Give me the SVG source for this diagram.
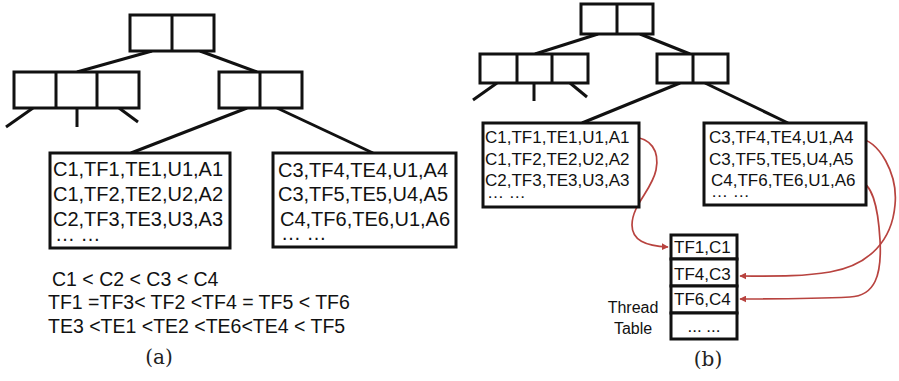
<svg xmlns="http://www.w3.org/2000/svg" width="899" height="381" viewBox="0 0 899 381">
<style>
.n{fill:#fff;stroke:#111;stroke-width:3}
.e{stroke:#111;stroke-width:3;fill:none}
.t{font-family:"Liberation Sans",Arial,sans-serif;fill:#111}
.ta{font-size:20px}
.tb{font-size:17px}
.cap{font-family:"DejaVu Serif","Liberation Serif",serif;font-size:20px;fill:#222}
.r{stroke:#b8433f;stroke-width:1.7;fill:none;marker-end:url(#ah)}
</style>
<defs>
<marker id="ah" viewBox="0 0 10 10" refX="9" refY="5" markerWidth="7" markerHeight="7" markerUnits="userSpaceOnUse" orient="auto">
<path d="M0,0 L10,5 L0,10 z" fill="#b8433f"/>
</marker>
</defs>
<g id="connectors">
<line class="e" x1="152" y1="51" x2="77" y2="72"/>
<line class="e" x1="200" y1="51" x2="257" y2="72"/>
<line class="e" x1="33" y1="108" x2="6" y2="127"/>
<line class="e" x1="77" y1="108" x2="77" y2="127"/>
<line class="e" x1="119" y1="108" x2="138" y2="122"/>
<line class="e" x1="247" y1="108" x2="131" y2="153"/>
<line class="e" x1="277" y1="108" x2="373" y2="153"/>
<line class="e" x1="598" y1="34" x2="535" y2="54"/>
<line class="e" x1="640" y1="34" x2="690" y2="54"/>
<line class="e" x1="497" y1="83" x2="473" y2="100"/>
<line class="e" x1="534" y1="83" x2="534" y2="101"/>
<line class="e" x1="570" y1="83" x2="587" y2="97"/>
<line class="e" x1="680" y1="83" x2="582" y2="123"/>
<line class="e" x1="705" y1="83" x2="788" y2="123"/>
<circle cx="632" cy="137" r="1.3" fill="#222"/>
<circle cx="856" cy="138" r="1.3" fill="#222"/>
<circle cx="857" cy="180" r="1.3" fill="#222"/>
<path class="r" d="M633,137 C650,138 660,150 656,170 C652,190 632,205 632,225 C632,240 645,246 668,247"/>
<path class="r" d="M857,138 C880,140 898,175 895,205 C892,240 870,265 830,272 C800,277 770,276 740,276"/>
<path class="r" d="M858,180 C872,183 878,205 880,240 C882,275 875,296 850,297 C810,299 770,299 740,299"/>
</g>
<g id="a-root"><rect class="n" x="130" y="15" width="84" height="36"/><line class="e" x1="172" y1="15" x2="172" y2="51"/></g>
<g id="a-left"><rect class="n" x="14" y="72" width="125" height="36"/><line class="e" x1="56" y1="72" x2="56" y2="108"/><line class="e" x1="97" y1="72" x2="97" y2="108"/></g>
<g id="a-right"><rect class="n" x="219" y="72" width="83" height="36"/><line class="e" x1="260" y1="72" x2="260" y2="108"/></g>
<g id="a-leaf1"><rect class="n" x="50" y="153" width="180" height="95"/>
<text class="t ta" x="53" y="176">C1,TF1,TE1,U1,A1</text>
<text class="t ta" x="53" y="201">C1,TF2,TE2,U2,A2</text>
<text class="t ta" x="53" y="226">C2,TF3,TE3,U3,A3</text>
<text class="t ta" x="55" y="241">… …</text></g>
<g id="a-leaf2"><rect class="n" x="273" y="153" width="183" height="94"/>
<text class="t ta" x="278" y="177">C3,TF4,TE4,U1,A4</text>
<text class="t ta" x="278" y="201">C3,TF5,TE5,U4,A5</text>
<text class="t ta" x="280" y="226">C4,TF6,TE6,U1,A6</text>
<text class="t ta" x="281" y="240">… …</text></g>
<g id="a-order">
<text class="t" style="font-size:19.5px" x="52" y="286">C1 &lt; C2 &lt; C3 &lt; C4</text>
<text class="t" style="font-size:19.5px" x="48" y="309">TF1 =TF3&lt; TF2 &lt;TF4 = TF5 &lt; TF6</text>
<text class="t" style="font-size:19.5px" x="48" y="333">TE3 &lt;TE1 &lt;TE2 &lt;TE6&lt;TE4 &lt; TF5</text>
</g>
<text class="cap" x="159" y="364" text-anchor="middle">(a)</text>
<g id="b-root"><rect class="n" x="581" y="4" width="72" height="30"/><line class="e" x1="617" y1="4" x2="617" y2="34"/></g>
<g id="b-left"><rect class="n" x="480" y="54" width="108" height="29"/><line class="e" x1="517" y1="54" x2="517" y2="83"/><line class="e" x1="552" y1="54" x2="552" y2="83"/></g>
<g id="b-right"><rect class="n" x="657" y="54" width="71" height="29"/><line class="e" x1="693" y1="54" x2="693" y2="83"/></g>
<g id="b-leaf1"><rect class="n" x="483" y="123" width="156" height="84"/>
<text class="t tb" x="485" y="143">C1,TF1,TE1,U1,A1</text>
<text class="t tb" x="485" y="165">C1,TF2,TE2,U2,A2</text>
<text class="t tb" x="485" y="186">C2,TF3,TE3,U3,A3</text>
<text class="t tb" x="487" y="198">… …</text></g>
<g id="b-leaf2"><rect class="n" x="704" y="123" width="162" height="82"/>
<text class="t tb" x="709" y="143">C3,TF4,TE4,U1,A4</text>
<text class="t tb" x="709" y="165">C3,TF5,TE5,U4,A5</text>
<text class="t tb" x="711" y="186">C4,TF6,TE6,U1,A6</text>
<text class="t tb" x="711" y="197">… …</text></g>
<g id="thread-table">
<rect class="n" x="671" y="235" width="66" height="24"/>
<rect class="n" x="671" y="259" width="66" height="27"/>
<rect class="n" x="671" y="286" width="66" height="27"/>
<rect class="n" x="671" y="313" width="66" height="26"/>
<text class="t tb" x="674" y="253">TF1,C1</text>
<text class="t tb" x="674" y="280">TF4,C3</text>
<text class="t tb" x="674" y="305">TF6,C4</text>
<text class="t tb" x="704" y="332" text-anchor="middle">... ...</text>
</g>
<g id="thread-label">
<text class="t" style="font-size:16px" x="633" y="313" text-anchor="middle">Thread</text>
<text class="t" style="font-size:16px" x="633" y="334" text-anchor="middle">Table</text>
</g>
<text class="cap" x="708" y="366" text-anchor="middle">(b)</text>
</svg>
